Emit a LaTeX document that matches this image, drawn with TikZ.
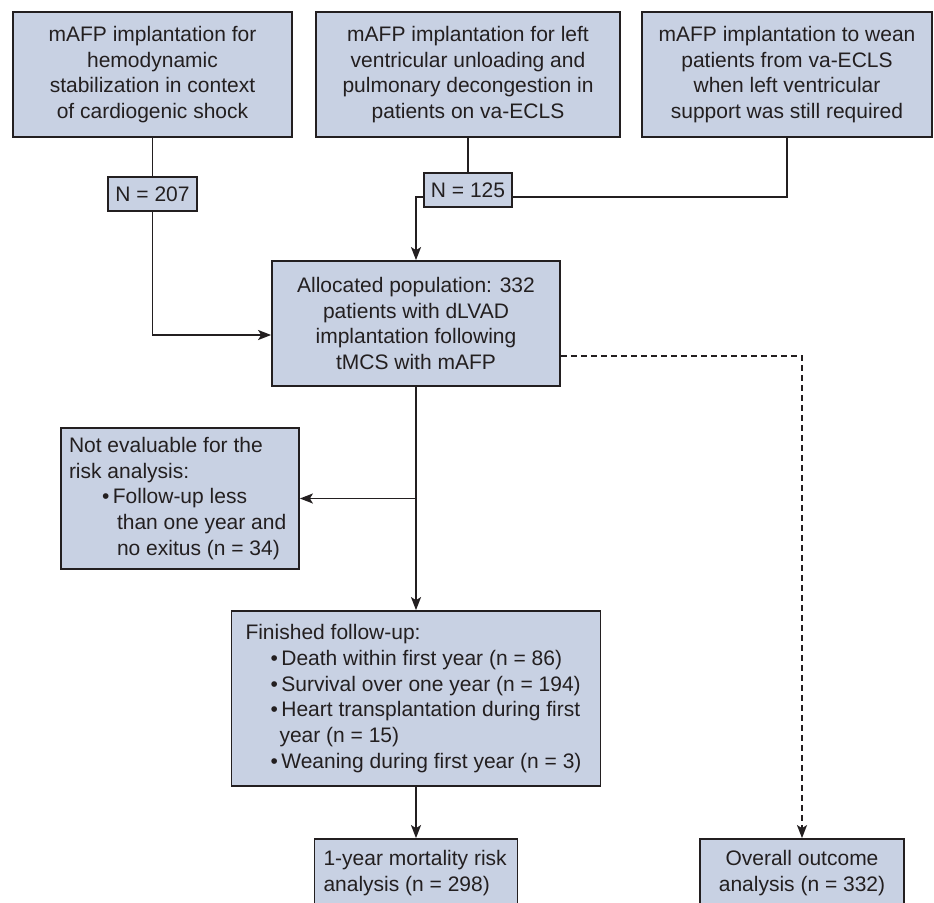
\documentclass[tikz,border=0pt]{standalone}
\usepackage{fontspec}
\setmainfont{Liberation Sans}
\usepackage{tikz}
\usetikzlibrary{arrows.meta,calc,positioning}
\definecolor{MCSInk}{HTML}{231F20}
\definecolor{MCSFill}{HTML}{C8D1E3}

\begin{document}
\begin{tikzpicture}[
      x=1pt,y=-1pt,
      >={Stealth[length=13pt,width=10pt,inset=3pt]},
      font=\fontsize{21}{25.7}\selectfont,
      box/.style={draw=MCSInk,fill=MCSFill,line width=1.8pt,text=MCSInk,inner sep=0pt,align=center},
      listbox/.style={box,align=left},
      link/.style={draw=MCSInk,line width=1.6pt},
      flow/.style={->,link},
      dashflow/.style={->,link,dash pattern=on 6pt off 4pt}
    ]
    \useasboundingbox (0,0) rectangle (934,902);

    \node[box,minimum width=279pt,minimum height=125pt] (shock) at (152.5,74.5)
      {mAFP implantation for\\hemodynamic\\stabilization in context\\of cardiogenic shock};
    \node[box,minimum width=304pt,minimum height=125pt] (unload) at (468,74.5)
      {mAFP implantation for left\\ventricular unloading and\\pulmonary decongestion in\\patients on va-ECLS};
    \node[box,minimum width=290pt,minimum height=125pt] (wean) at (787,74.5)
      {mAFP implantation to wean\\patients from va-ECLS\\when left ventricular\\support was still required};

    \node[box,minimum width=89pt,minimum height=34pt] (nshock) at (152.5,194) {N = 207};
    \node[box,minimum width=88pt,minimum height=34pt] (nunload) at (468,190) {N = 125};

    \node[box,minimum width=288pt,minimum height=125pt] (alloc) at (416,323.5)
      {Allocated population: 332\\patients with dLVAD\\implantation following\\tMCS with mAFP};

    \node[listbox,inner xsep=8pt,minimum height=141pt] (noteval) at (180,498.5)
      {\makebox[222pt][l]{Not evaluable for the}\\risk analysis:\\
       \hspace*{33pt}•\hspace{3.5pt}Follow-up less\\
       \hspace*{48pt}than one year and\\
       \hspace*{48pt}no exitus (n = 34)};

    \node[listbox,inner xsep=14pt,minimum height=175pt] (finished) at (416,698.5)
      {\makebox[341pt][l]{Finished follow-up:}\\
       \hspace*{25pt}•\hspace{3.5pt}Death within first year (n = 86)\\
       \hspace*{25pt}•\hspace{3.5pt}Survival over one year (n = 194)\\
       \hspace*{25pt}•\hspace{3.5pt}Heart transplantation during first\\
       \hspace*{34pt}year (n = 15)\\
       \hspace*{25pt}•\hspace{3.5pt}Weaning during first year (n = 3)};

    \node[listbox,inner xsep=9pt,minimum height=68pt] (mortality) at (416,873)
      {\makebox[185pt][l]{1-year mortality risk}\\analysis (n = 298)};
    \node[box,minimum width=204pt,minimum height=68pt] (overall) at (802,873)
      {Overall outcome\\analysis (n = 332)};

    \draw[link] (shock.south) -- (nshock.north);
    \draw[flow] (nshock.south) |- ([yshift=-11.5pt]alloc.west);
    \draw[link] (unload.south) -- (nunload.north);
    \draw[link] (wean.south) |- ([yshift=-7pt]nunload.east);
    \draw[flow] ([yshift=-7pt]nunload.west) -| (alloc.north);

    \coordinate (split) at (alloc.south |- noteval.east);
    \draw[flow] (alloc.south) -- (finished.north);
    \draw[flow] (split) -- (noteval.east);
    \draw[flow] (finished.south) -- (mortality.north);
    \draw[dashflow] ([yshift=-32.5pt]alloc.east) -| (overall.north);
  \end{tikzpicture}
\end{document}
